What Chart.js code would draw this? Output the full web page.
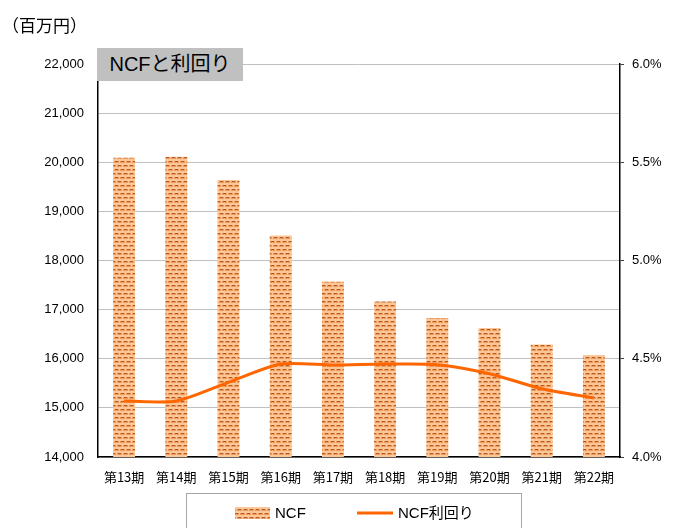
<!DOCTYPE html>
<html>
<head>
<meta charset="utf-8">
<script src="https://cdn.jsdelivr.net/npm/chart.js@4"></script>
<style>
  body { margin: 0; background: #fff; }
  #wrap { position: relative; width: 678px; height: 528px; overflow: hidden; }
  #unit { position: absolute; left: 2px; top: 16px; font: 17px/17px "Noto Sans CJK JP", sans-serif; color: #000; }
  #title { position: absolute; left: 97px; top: 48px; width: 146px; height: 33px; line-height: 33px;
           background: #c0c0c0; text-align: center; font: 20px "Liberation Sans", "Noto Sans CJK JP", sans-serif; color: #000; }
</style>
</head>
<body>
<div id="wrap">
  <canvas id="myChart" width="678" height="528"></canvas>
  <div id="unit">（百万円）</div>
  <div id="title">NCFと利回り</div>
</div>
<script>
let periods = ['第13期', '第14期', '第15期', '第16期', '第17期', '第18期', '第19期', '第20期', '第21期', '第22期'];
let ncf = [20090, 20110, 19640, 18510, 17565, 17165, 16830, 16625, 16290, 16075];
let ncfYield = [4.285, 4.285, 4.38, 4.473, 4.468, 4.473, 4.47, 4.424, 4.347, 4.30];
let leftTicks = [14000, 22000, 1000];
let rightTicks = [4.0, 6.0, 0.5];

// brick-like dotted fill used for the NCF bars
function makePattern() {
    let c = document.createElement('canvas');
    c.width = 6;
    c.height = 8;
    let g = c.getContext('2d');
    g.fillStyle = '#fcc796';
    g.fillRect(0, 0, 6, 8);
    g.fillStyle = '#ec9a5c';
    g.fillRect(0, 1, 5, 2);
    g.fillRect(3, 5, 3, 2);
    g.fillRect(0, 5, 2, 2);
    g.fillStyle = '#b5582a';
    g.fillRect(1, 1, 3, 1);
    g.fillRect(4, 5, 2, 1);
    g.fillRect(0, 5, 1, 1);
    return document.getElementById('myChart').getContext('2d').createPattern(c, 'repeat');
}
let ncfFill = makePattern();

let boxLegend = {
    id: 'boxLegend',
    afterDraw(chart) {
        let ctx = chart.ctx;
        let ds = chart.data.datasets;
        ctx.save();
        ctx.strokeStyle = '#a6a6a6';
        ctx.lineWidth = 1;
        ctx.strokeRect(186.5, 493.5, 335, 45);
        ctx.fillStyle = ncfFill;
        ctx.fillRect(235, 507, 35, 12);
        ctx.strokeStyle = '#ff6600';
        ctx.lineWidth = 3;
        ctx.beginPath();
        ctx.moveTo(357, 513);
        ctx.lineTo(393, 513);
        ctx.stroke();
        ctx.fillStyle = '#000';
        ctx.font = '15px "Liberation Sans", "Noto Sans CJK JP", sans-serif';
        ctx.textBaseline = 'middle';
        ctx.fillText(ds[0].label, 275, 514);
        ctx.fillText(ds[1].label, 398, 514);
        ctx.restore();
    }
};

let chart = new Chart(document.getElementById('myChart').getContext('2d'), {
    type: 'bar',
    data: {
        labels: periods,
        datasets: [{
            label: 'NCF',
            data: ncf,
            backgroundColor: ncfFill,
            barPercentage: 0.42,
            categoryPercentage: 1,
            yAxisID: 'y',
            order: 1
        }, {
            type: 'line',
            label: 'NCF利回り',
            data: ncfYield,
            borderColor: '#ff6600',
            borderWidth: 3,
            pointRadius: 0,
            tension: 0.25,
            fill: false,
            yAxisID: 'y1',
            order: 0
        }]
    },
    options: {
        responsive: false,
        animation: false,
        devicePixelRatio: 1,
        layout: { padding: { top: 64, left: 0, right: 0, bottom: 0 } },
        plugins: {
            legend: { display: false },
            tooltip: { enabled: false }
        },
        scales: {
            x: {
                grid: { display: false },
                border: { color: '#000', width: 1.5 },
                ticks: {
                    color: '#000',
                    padding: 4,
                    font: { family: '"Noto Sans CJK JP", sans-serif', size: 13 },
                    maxRotation: 0,
                    autoSkip: false
                },
                afterFit(s) { s.height = 71; }
            },
            y: {
                position: 'left',
                min: leftTicks[0],
                max: leftTicks[1],
                ticks: {
                    stepSize: leftTicks[2],
                    color: '#000',
                    padding: 14,
                    font: { family: '"Liberation Sans", sans-serif', size: 13 },
                    callback: v => v.toLocaleString('en-US')
                },
                grid: { color: '#c0c0c0', drawTicks: false },
                border: { color: '#000', width: 1.5 },
                afterFit(s) { s.width = 98; }
            },
            y1: {
                position: 'right',
                min: rightTicks[0],
                max: rightTicks[1],
                ticks: {
                    stepSize: rightTicks[2],
                    color: '#000',
                    padding: 8,
                    font: { family: '"Liberation Sans", sans-serif', size: 13 },
                    callback: v => v.toFixed(1) + '%'
                },
                grid: { drawOnChartArea: false, tickLength: 4, color: '#404040' },
                border: { color: '#000', width: 1.5 },
                afterFit(s) { s.width = 58; }
            }
        }
    },
    plugins: [boxLegend]
});
</script>
</body>
</html>
